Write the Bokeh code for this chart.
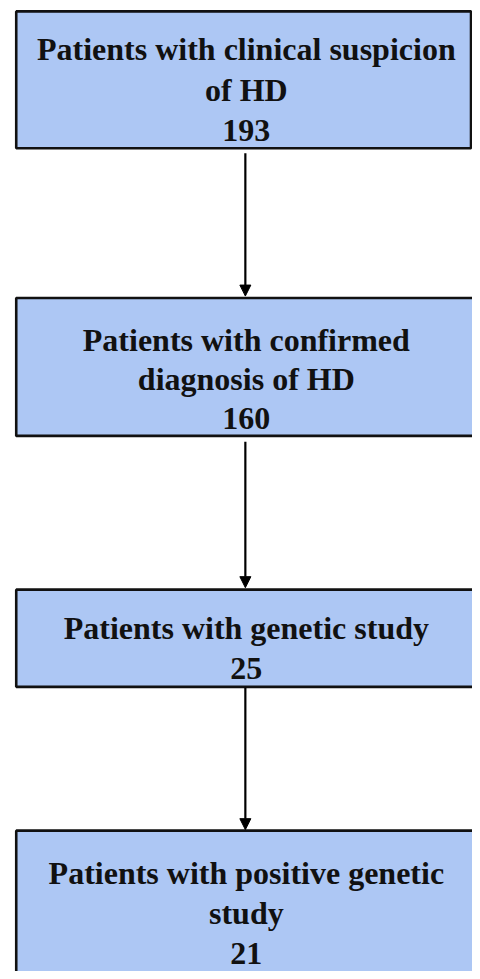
from bokeh.plotting import figure
from bokeh.models import ColumnDataSource, Range1d, Arrow, NormalHead
from bokeh.core.properties import value
from bokeh.embed import file_html
from bokeh.resources import INLINE

# ---- data ----
stage_labels = [
    "Patients with clinical suspicion\nof HD",
    "Patients with confirmed\ndiagnosis of HD",
    "Patients with genetic study",
    "Patients with positive genetic\nstudy",
]
stage_counts = [193, 160, 25, 21]

# ---- layout (reference pixel coordinates) ----
box_left = [16, 16, 16, 16]
box_right = [478.5, 490, 490, 490]
box_top = [11, 300, 594, 837]
box_bottom = [149, 439, 692, 990]
first_baseline = [49, 342, 633, 880]
line_gap = [41, 39.5, 40, 40.5]
text_x = 250
arrow_x = 249
arrow_start = [154, 445, 693]
arrow_end = [298, 592, 836]

W, H = 472, 971
p = figure(width=W, height=H, output_backend="svg", toolbar_location=None,
           x_range=Range1d(0, 480), y_range=Range1d(979, 0),
           min_border=0, background_fill_color="white", border_fill_color="white")
p.axis.visible = False
p.grid.visible = False
p.outline_line_color = None

box_src = ColumnDataSource(dict(left=box_left, right=box_right, top=box_top, bottom=box_bottom))
p.quad(left="left", right="right", top="top", bottom="bottom", source=box_src,
       fill_color="#adc7f4", line_color="#111111", line_width=2.6)

tx, ty, tt = [], [], []
for i, (lab, cnt) in enumerate(zip(stage_labels, stage_counts)):
    lines = lab.split("\n") + [str(cnt)]
    for j, ln in enumerate(lines):
        tx.append(text_x)
        ty.append(first_baseline[i] + j * line_gap[i])
        tt.append(ln)
txt_src = ColumnDataSource(dict(x=tx, y=ty, text=tt))
p.text(x="x", y="y", text="text", source=txt_src, text_font=value("Liberation Serif"),
       text_font_style="bold", text_font_size="32px", text_align="center",
       text_baseline="alphabetic", text_color="#111111")

for s, e in zip(arrow_start, arrow_end):
    p.add_layout(Arrow(end=NormalHead(size=11, fill_color="black", line_color="black"),
                       x_start=arrow_x, y_start=s, x_end=arrow_x, y_end=e,
                       line_width=2.2, line_color="black"))

open("out.html", "w").write(file_html(p, INLINE))
